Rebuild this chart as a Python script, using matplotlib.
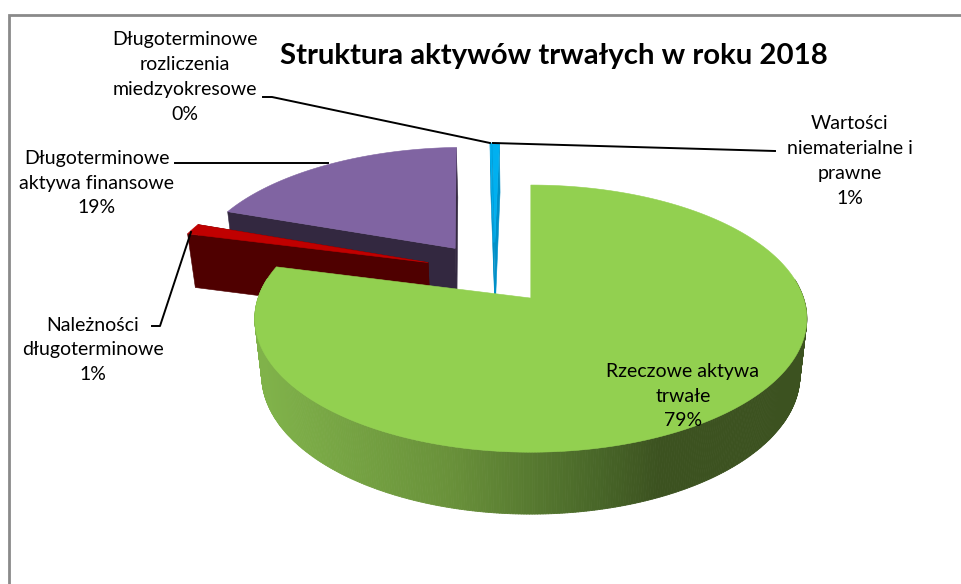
import numpy as np
import matplotlib
matplotlib.use("Agg")
import matplotlib.pyplot as plt
from matplotlib.collections import PolyCollection

# =========================
# Data
# =========================
title = "Struktura aktywów trwałych w roku 2018"
categories = ["Rzeczowe aktywa\ntrwałe", "Należności\ndługoterminowe",
              "Długoterminowe\naktywa finansowe",
              "Długoterminowe\nrozliczenia\nmiedzyokresowe",
              "Wartości\nniematerialne i\nprawne"]
values = [79.0, 1.4, 19.0, 0.1, 0.5]
percent_labels = ["79%", "1%", "19%", "0%", "1%"]

# =========================
# Style
# =========================
top_colors = ["#92D050", "#C00000", "#8064A2", "#00B0F0", "#00B0F0"]
wall_colors = ["#5F8530", "#4F0000", "#332840", "#0090C8", "#0090C8"]
explode = [0.273, 0.236, 0.235, 0.24, 0.24]
nudge_u = [0.0, 0.0, 0.012, 0.03, 0.03]
draw_order = [3, 4, 2, 1, 0]

label_pos = [(683, 396), (93, 350), (97, 183), (185, 77), (850, 161)]
leaders = [None,
           [(152, 326), (160, 326), (191, 232)],
           [(175, 163), (328, 163)],
           [(263, 97), (272, 97), (490, 143)],
           [(493, 143), (775, 151)]]

# perspective of the pie, in pixels
CX, CY = 531, 298
RX, RY = 272.7, 130.4
HEIGHT = 57.8
K, M = 0.1536, 0.025
OFFSET = (-0.168, 0.215)

plt.rcParams['font.family'] = ['Lato', 'DejaVu Sans']


def project(u, v, z=0.0):
    d = 1 + K * v + M * z
    return CX + RX * u / d, CY + (-RY * v + HEIGHT * z) / d


def ring(start, end, ox, oy, z=0.0):
    # angles clockwise from 12 o'clock
    t = np.radians(np.linspace(start, end, max(int(abs(end - start)) * 2, 2) + 1))
    return project(ox + np.sin(t), oy + np.cos(t), z)


fig = plt.figure(figsize=(9.62, 5.84), dpi=100)
ax = fig.add_axes([0, 0, 1, 1])
ax.set_xlim(0, 962)
ax.set_ylim(584, 0)
ax.axis("off")

# chart frame (cut off by the screenshot on the right and bottom)
ax.plot([9, 9, 962], [584, 15, 15], color="#8A8A8A", lw=2, solid_joinstyle="miter")

# =========================
# Pie slices
# =========================
edges = np.concatenate([[0], np.cumsum(values) / np.sum(values) * 360])

for i in draw_order:
    a0, a1 = edges[i], edges[i + 1]
    mid = np.radians((a0 + a1) / 2)
    ox = OFFSET[0] + explode[i] * np.sin(mid) + nudge_u[i]
    oy = OFFSET[1] + explode[i] * np.cos(mid)

    # outer wall, only the part facing the viewer, shaded along x for the big slice
    tx, ty = ring(a0, a1, ox, oy)
    bx, by = ring(a0, a1, ox, oy, 1.0)
    angs = np.linspace(a0, a1, len(tx))
    quads = []
    cols = []
    for j in range(len(tx) - 1):
        if np.cos(np.radians(angs[j])) > 0.15:
            continue
        quads.append([(tx[j], ty[j]), (tx[j + 1], ty[j + 1]),
                      (bx[j + 1], by[j + 1]), (bx[j], by[j])])
        xm = (tx[j] + tx[j + 1]) / 2
        if i == 0:
            cols.append((np.interp(xm, [263, 450, 600, 660], [128, 105, 72, 60]) / 255,
                         np.interp(xm, [263, 450, 600, 660], [178, 145, 102, 82]) / 255,
                         np.interp(xm, [263, 450, 600, 660], [74, 58, 40, 32]) / 255))
        else:
            cols.append(wall_colors[i])
    if quads:
        ax.add_collection(PolyCollection(quads, facecolors=cols, edgecolors=cols, linewidths=0.6))

    # cut walls from the centre of the slice (hidden under the top on the big slice)
    ap_t = project(ox, oy)
    ap_b = project(ox, oy, 1.0)
    if i != 0:
        for a in (a1, a0):
            r = np.radians(a)
            o_t = project(ox + np.sin(r), oy + np.cos(r))
            o_b = project(ox + np.sin(r), oy + np.cos(r), 1.0)
            ax.fill([ap_t[0], o_t[0], o_b[0], ap_b[0]], [ap_t[1], o_t[1], o_b[1], ap_b[1]],
                    color=wall_colors[i], lw=0.4)

    # top face
    ax.fill(np.r_[ap_t[0], tx], np.r_[ap_t[1], ty], color=top_colors[i], lw=0.4)

# =========================
# Labels
# =========================
for i, name in enumerate(categories):
    ax.text(label_pos[i][0], label_pos[i][1], name + "\n" + percent_labels[i],
            ha="center", va="center", fontsize=14, linespacing=1.55, color="black")
    if leaders[i] is not None:
        xs, ys = zip(*leaders[i])
        ax.plot(xs, ys, color="black", lw=1.4)

ax.text(554, 56, title, ha="center", va="center", fontsize=21.2, fontweight="bold", color="black")

fig.savefig("out.png", dpi=100)
